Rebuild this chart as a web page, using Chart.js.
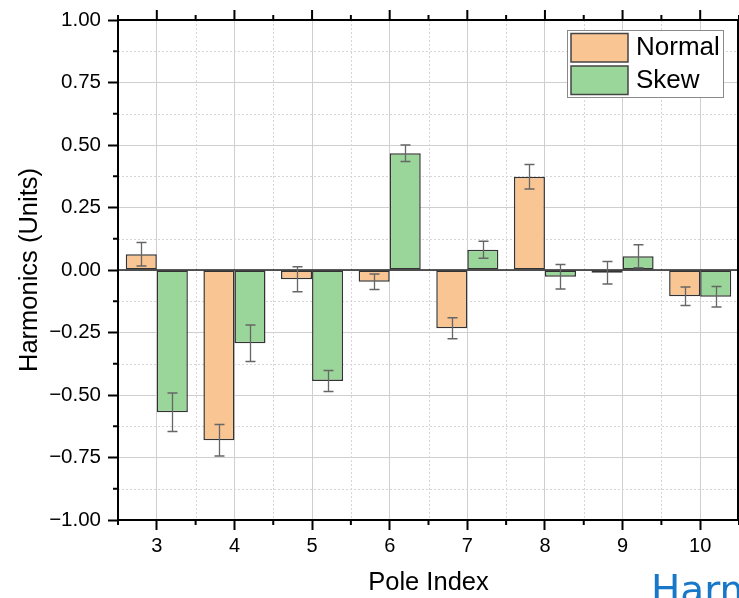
<!DOCTYPE html>
<html>
<head>
<meta charset="utf-8">
<script src="https://cdn.jsdelivr.net/npm/chart.js@4"></script>
<style>
  html, body { margin: 0; padding: 0; background: #ffffff; }
  #wrap { position: relative; width: 739px; height: 598px; overflow: hidden; }
  #harm { position: absolute; left: 651px; top: 570px; font-family: "DejaVu Sans", sans-serif;
          font-size: 39px; line-height: 1; color: #1877c9; white-space: nowrap; }
</style>
</head>
<body>
<div id="wrap">
  <canvas id="c" width="739" height="598"></canvas>
  <div id="harm">Harm</div>
</div>
<script>
// ---- data ----
const poles = ['3', '4', '5', '6', '7', '8', '9', '10'];
const normalValues = [0.063, -0.681, -0.037, -0.047, -0.233, 0.373, -0.011, -0.105];
const normalErrors = [0.047, 0.063, 0.050, 0.031, 0.042, 0.049, 0.045, 0.037];
const skewValues = [-0.569, -0.293, -0.444, 0.467, 0.081, -0.027, 0.055, -0.107];
const skewErrors = [0.077, 0.073, 0.042, 0.033, 0.034, 0.049, 0.046, 0.041];
const yTickValues = [-1.00, -0.75, -0.50, -0.25, 0.00, 0.25, 0.50, 0.75, 1.00];
const seriesNames = ['Normal', 'Skew'];

const FONT = '"Liberation Sans", Arial, sans-serif';
const errorSets = [normalErrors, skewErrors];

const decorPlugin = {
  id: 'decor',
  beforeDatasetsDraw(chart) {
    const { ctx, chartArea: a, scales: { x, y } } = chart;
    ctx.save();
    ctx.strokeStyle = '#d6d6d6';
    ctx.lineWidth = 1;
    ctx.setLineDash([2, 2]);
    for (let i = 0; i < poles.length - 1; i++) {
      const px = Math.round((x.getPixelForValue(i) + x.getPixelForValue(i + 1)) / 2) + 0.5;
      ctx.beginPath(); ctx.moveTo(px, a.top); ctx.lineTo(px, a.bottom); ctx.stroke();
    }
    for (let i = 0; i < yTickValues.length - 1; i++) {
      const v = (yTickValues[i] + yTickValues[i + 1]) / 2;
      const py = Math.round(y.getPixelForValue(v)) + 0.5;
      ctx.beginPath(); ctx.moveTo(a.left, py); ctx.lineTo(a.right, py); ctx.stroke();
    }
    ctx.restore();
  },
  afterDatasetsDraw(chart) {
    const { ctx, chartArea: a, scales: { y } } = chart;
    ctx.save();
    // zero line
    ctx.strokeStyle = '#222';
    ctx.lineWidth = 1.6;
    const zy = y.getPixelForValue(0);
    ctx.beginPath(); ctx.moveTo(a.left, zy); ctx.lineTo(a.right, zy); ctx.stroke();
    // error bars
    ctx.strokeStyle = '#666';
    ctx.lineWidth = 1.3;
    chart.data.datasets.forEach((ds, di) => {
      const meta = chart.getDatasetMeta(di);
      meta.data.forEach((bar, i) => {
        const v = ds.data[i], e = errorSets[di][i];
        const cx = Math.round(bar.x) + 0.5;
        const y1 = y.getPixelForValue(v + e), y2 = y.getPixelForValue(v - e);
        const cap = 5;
        ctx.beginPath();
        ctx.moveTo(cx, y1); ctx.lineTo(cx, y2);
        ctx.moveTo(cx - cap, y1); ctx.lineTo(cx + cap, y1);
        ctx.moveTo(cx - cap, y2); ctx.lineTo(cx + cap, y2);
        ctx.stroke();
      });
    });
    ctx.restore();
  },
  afterDraw(chart) {
    const { ctx, chartArea: a, scales: { x, y } } = chart;
    ctx.save();
    ctx.strokeStyle = '#000';
    ctx.lineWidth = 2;
    // frame
    ctx.beginPath();
    ctx.moveTo(a.left, a.top); ctx.lineTo(a.right - 1, a.top);
    ctx.lineTo(a.right - 1, a.bottom); ctx.lineTo(a.left, a.bottom); ctx.closePath();
    ctx.stroke();
    // top major ticks
    ctx.beginPath();
    for (let i = 0; i < poles.length; i++) {
      const px = x.getPixelForValue(i);
      ctx.moveTo(px, a.top); ctx.lineTo(px, a.top - 10);
    }
    // minor ticks (x halves) top & bottom
    for (let i = -1; i < poles.length; i++) {
      const px = (x.getPixelForValue(i) + x.getPixelForValue(i + 1)) / 2;
      if (px < a.left - 1 || px > a.right) continue;
      ctx.moveTo(px, a.top); ctx.lineTo(px, a.top - 5);
      ctx.moveTo(px, a.bottom); ctx.lineTo(px, a.bottom + 5);
    }
    // y minor ticks left
    for (let i = 0; i < yTickValues.length - 1; i++) {
      const py = y.getPixelForValue((yTickValues[i] + yTickValues[i + 1]) / 2);
      ctx.moveTo(a.left, py); ctx.lineTo(a.left - 5, py);
    }
    ctx.stroke();

    // legend
    const lx = 567.5, ly = 30.5, lw = 156, lh = 67;
    ctx.fillStyle = '#fff';
    ctx.fillRect(lx, ly, lw, lh);
    ctx.strokeStyle = '#8a8a8a';
    ctx.lineWidth = 1;
    ctx.strokeRect(lx, ly, lw, lh);
    const rows = [[33.5, 55], [66, 88]];
    chart.data.datasets.forEach((ds, di) => {
      const [sy, by] = rows[di];
      ctx.fillStyle = ds.backgroundColor;
      ctx.fillRect(571, sy, 57, 28.5);
      ctx.strokeStyle = '#444';
      ctx.lineWidth = 1.5;
      ctx.strokeRect(571, sy, 57, 28.5);
      ctx.fillStyle = '#000';
      ctx.font = '26px ' + FONT;
      ctx.textBaseline = 'alphabetic';
      ctx.textAlign = 'left';
      ctx.fillText(ds.label, 636, by);
    });
    ctx.restore();
  }
};

new Chart(document.getElementById('c'), {
  type: 'bar',
  data: {
    labels: poles,
    datasets: [
      { label: seriesNames[0], data: normalValues, backgroundColor: '#f9c593', borderColor: '#333',
        borderWidth: 1.5, borderSkipped: false, categoryPercentage: 0.8, barPercentage: 1.0 },
      { label: seriesNames[1], data: skewValues, backgroundColor: '#9ad69a', borderColor: '#333',
        borderWidth: 1.5, borderSkipped: false, categoryPercentage: 0.8, barPercentage: 1.0 }
    ]
  },
  options: {
    responsive: false,
    animation: false,
    devicePixelRatio: 1,
    layout: { padding: { top: 20, right: 0, left: 0, bottom: 0 } },
    plugins: { legend: { display: false }, tooltip: { enabled: false } },
    scales: {
      x: {
        offset: true,
        grid: { offset: false, color: '#cfcfcf', lineWidth: 1, tickColor: '#000', tickWidth: 2, tickLength: 10 },
        border: { color: '#000', width: 2 },
        ticks: { color: '#000', font: { family: FONT, size: 20 }, padding: 4, maxRotation: 0, autoSkip: false },
        title: { display: true, text: 'Pole Index', color: '#000', font: { family: FONT, size: 25.5 }, padding: { top: 0, bottom: 0 } },
        afterFit(scale) { scale.height = 78; }
      },
      y: {
        min: -1, max: 1,
        afterBuildTicks(scale) { scale.ticks = yTickValues.map(v => ({ value: v })); },
        grid: { color: '#cfcfcf', lineWidth: 1, tickColor: '#000', tickWidth: 2, tickLength: 10 },
        border: { color: '#000', width: 2 },
        ticks: {
          color: '#000', font: { family: FONT, size: 20.5 }, padding: 7,
          callback: v => (v < 0 ? '\u2212' : '') + Math.abs(v).toFixed(2)
        },
        title: { display: true, text: 'Harmonics (Units)', color: '#000', font: { family: FONT, size: 25.5 }, padding: { top: 15, bottom: 0 } },
        afterFit(scale) { scale.width = 118; }
      }
    }
  },
  plugins: [decorPlugin]
});
</script>
</body>
</html>
